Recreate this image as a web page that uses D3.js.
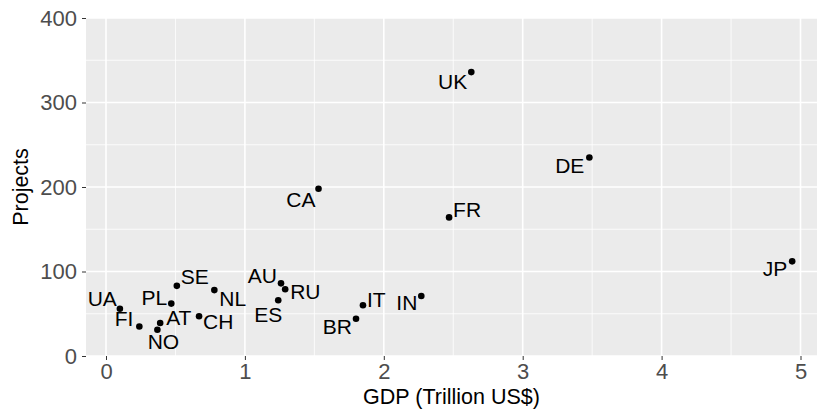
<!DOCTYPE html>
<html>
<head>
<meta charset="utf-8">
<script src="https://cdn.jsdelivr.net/npm/d3@7"></script>
<style>
  body { margin: 0; background: #fff; }
  text { font-family: "Liberation Sans", Arial, sans-serif; }
</style>
</head>
<body>
<div class="chart"></div>
<script>
var svgWidth = 817;
var svgHeight = 412;

// data
var countries = ["UK", "DE", "FR", "JP", "CA", "IN", "IT", "BR", "UA", "FI",
                 "NO", "AT", "PL", "SE", "NL", "CH", "AU", "RU", "ES"];
var gdp = [2.63, 3.48, 2.47, 4.94, 1.53, 2.27, 1.85, 1.80, 0.10, 0.24,
           0.37, 0.39, 0.47, 0.51, 0.78, 0.67, 1.26, 1.29, 1.24];
var projects = [336, 235, 164, 112, 198, 71, 60, 44, 56, 35,
                31, 39, 62, 83, 78, 47, 86, 79, 66];

var xTicks = [0, 1, 2, 3, 4, 5];
var yTicks = [0, 100, 200, 300, 400];

// repel-style label placement: anchor, dx, dy (px from the point)
var labelPlace = {
  UK: ["end", -4, 17], DE: ["end", -5, 16], FR: ["start", 4, 0],
  JP: ["end", -5, 15], CA: ["end", -3, 18], IN: ["end", -4, 14],
  IT: ["start", 4, 2], BR: ["end", -4, 15], UA: ["end", -3, -3],
  FI: ["end", -6, 0], NO: ["middle", 6, 19], AT: ["start", 6, 2],
  PL: ["end", -4, 1], SE: ["start", 4, -2], NL: ["start", 5, 16],
  CH: ["start", 4, 13], AU: ["end", -4, 0], RU: ["start", 5, 10],
  ES: ["middle", -10, 22]
};

var panel = { left: 86, right: 817, top: 18, bottom: 356 };

var svg = d3.select(".chart")
  .append("svg")
  .attr("width", svgWidth)
  .attr("height", svgHeight);

var xScale = d3.scaleLinear().domain([0, 5]).range([106, 800.5]);
var yScale = d3.scaleLinear().domain([0, 400]).range([panel.bottom, panel.top]);

svg.append("rect")
  .attr("x", panel.left)
  .attr("y", panel.top)
  .attr("width", panel.right - panel.left)
  .attr("height", panel.bottom - panel.top)
  .attr("fill", "#EBEBEB");

// minor grid
var xMinor = [0.5, 1.5, 2.5, 3.5, 4.5];
var yMinor = [50, 150, 250, 350];
svg.selectAll(".xminor").data(xMinor).enter().append("line")
  .attr("x1", d => xScale(d)).attr("x2", d => xScale(d))
  .attr("y1", panel.top).attr("y2", panel.bottom)
  .attr("stroke", "#fff").attr("stroke-width", 0.8);
svg.selectAll(".yminor").data(yMinor).enter().append("line")
  .attr("x1", panel.left).attr("x2", panel.right)
  .attr("y1", d => yScale(d)).attr("y2", d => yScale(d))
  .attr("stroke", "#fff").attr("stroke-width", 0.8);

// major grid
svg.selectAll(".xmajor").data(xTicks).enter().append("line")
  .attr("x1", d => xScale(d)).attr("x2", d => xScale(d))
  .attr("y1", panel.top).attr("y2", panel.bottom)
  .attr("stroke", "#fff").attr("stroke-width", 1.6);
svg.selectAll(".ymajor").data(yTicks).enter().append("line")
  .attr("x1", panel.left).attr("x2", panel.right)
  .attr("y1", d => yScale(d)).attr("y2", d => yScale(d))
  .attr("stroke", "#fff").attr("stroke-width", 1.6);

// axes
var xAxis = d3.axisBottom(xScale).tickValues(xTicks).tickFormat(d3.format("d"))
  .tickSize(4).tickPadding(3);
var yAxis = d3.axisLeft(yScale).tickValues(yTicks).tickFormat(d3.format("d"))
  .tickSize(4).tickPadding(5);

var gx = svg.append("g")
  .attr("transform", "translate(0," + panel.bottom + ")")
  .call(xAxis);
var gy = svg.append("g")
  .attr("transform", "translate(" + panel.left + ",0)")
  .call(yAxis);

[gx, gy].forEach(function(g) {
  g.select(".domain").remove();
  g.selectAll(".tick line").attr("stroke", "#333").attr("stroke-width", 1);
  g.selectAll(".tick text")
    .attr("fill", "#4D4D4D")
    .style("font-size", "22px")
    .style("font-family", "Liberation Sans, Arial, sans-serif");
});

svg.append("text")
  .attr("x", (panel.left + panel.right) / 2)
  .attr("y", 404)
  .attr("text-anchor", "middle")
  .style("font-size", "21.5px")
  .text("GDP (Trillion US$)");

svg.append("text")
  .attr("transform", "translate(28," + (panel.top + panel.bottom) / 2 + ") rotate(-90)")
  .attr("text-anchor", "middle")
  .style("font-size", "21.5px")
  .text("Projects");

// points
var points = countries.map(function(c, i) {
  return { name: c, gdp: gdp[i], projects: projects[i] };
});

svg.selectAll("circle")
  .data(points)
  .enter()
  .append("circle")
  .attr("cx", d => xScale(d.gdp))
  .attr("cy", d => yScale(d.projects))
  .attr("r", 3.3)
  .attr("fill", "#000");

svg.selectAll(".label")
  .data(points)
  .enter()
  .append("text")
  .attr("class", "label")
  .attr("x", d => xScale(d.gdp) + labelPlace[d.name][1])
  .attr("y", d => yScale(d.projects) + labelPlace[d.name][2])
  .attr("text-anchor", d => labelPlace[d.name][0])
  .style("font-size", "21px")
  .attr("fill", "#000")
  .text(d => d.name);
</script>
</body>
</html>
